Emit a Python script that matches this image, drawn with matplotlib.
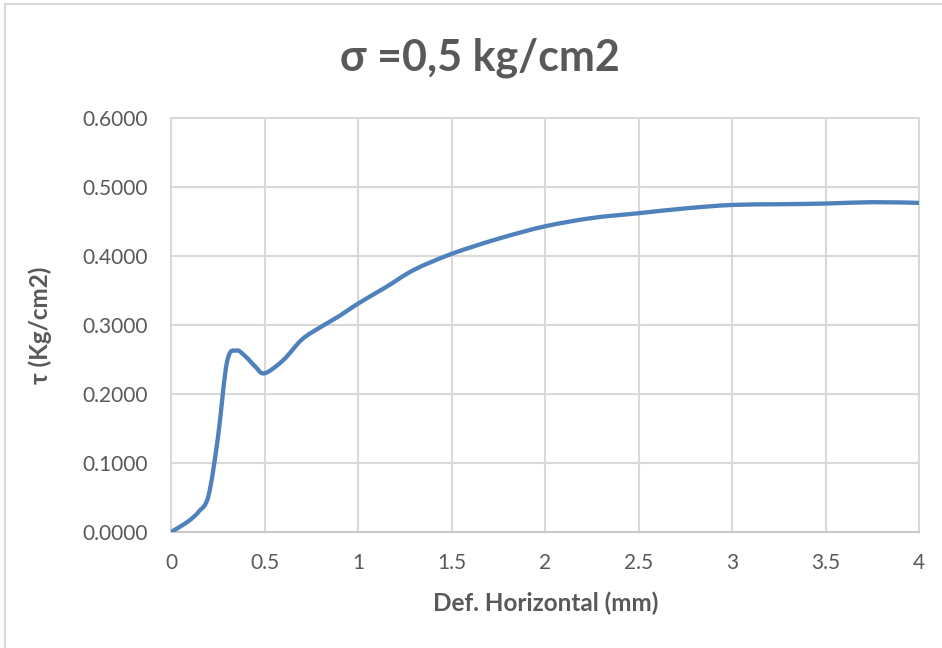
import numpy as np
import matplotlib
matplotlib.use('Agg')
import matplotlib.pyplot as plt
from matplotlib.path import Path
from matplotlib.patches import PathPatch
from matplotlib.lines import Line2D

# ── Data ─────────────────────────────────────────────────────────────────────
def_h = [0, 0.05, 0.10, 0.15, 0.20, 0.25, 0.30, 0.35, 0.40, 0.45, 0.50,
         0.60, 0.70, 0.80, 0.90, 1.00, 1.15, 1.30, 1.50, 1.75, 2.00,
         2.25, 2.50, 2.75, 3.00, 3.25, 3.50, 3.75, 4.00]
tau = [0.000, 0.008, 0.017, 0.030, 0.052, 0.135, 0.247, 0.263, 0.254, 0.240, 0.230,
       0.249, 0.279, 0.297, 0.313, 0.331, 0.355, 0.380, 0.403, 0.425, 0.443,
       0.455, 0.462, 0.469, 0.474, 0.475, 0.476, 0.478, 0.477]
x_ticks = [0, 0.5, 1, 1.5, 2, 2.5, 3, 3.5, 4]
x_tick_labels = ['0', '0.5', '1', '1.5', '2', '2.5', '3', '3.5', '4']
y_ticks = [0.0, 0.1, 0.2, 0.3, 0.4, 0.5, 0.6]

# ── Style ─────────────────────────────────────────────────────────────────────
LINE_C = '#4f81bd'
GRID_C = '#d9d9d9'
TEXT_C = '#595959'
plt.rcParams['font.family'] = ['Lato', 'DejaVu Sans']


def smooth_path(xs, ys):
    # Excel-style smoothed line: cubic Bezier segments through every point
    p = np.column_stack([xs, ys]).astype(float)
    ext = np.vstack([p[0], p, p[-1]])
    verts = [p[0]]
    codes = [Path.MOVETO]
    for i in range(len(p) - 1):
        c1 = ext[i + 1] + (ext[i + 2] - ext[i]) / 6
        c2 = ext[i + 2] - (ext[i + 3] - ext[i + 1]) / 6
        verts += [c1, c2, p[i + 1]]
        codes += [Path.CURVE4] * 3
    return Path(verts, codes)


fig = plt.figure(figsize=(9.42, 6.48), dpi=100, facecolor='white')
ax = fig.add_axes([171 / 942, 1 - 532 / 648, 748 / 942, 414 / 648])

ax.add_patch(PathPatch(smooth_path(def_h, tau), facecolor='none',
                       edgecolor=LINE_C, linewidth=3.1, capstyle='round',
                       joinstyle='round', zorder=3))

ax.set_xlim(0, 4)
ax.set_ylim(0, 0.6)
ax.set_xticks(x_ticks)
ax.set_xticklabels(x_tick_labels)
ax.set_yticks(y_ticks)
ax.set_yticklabels([f'{v:.4f}' for v in y_ticks])
ax.tick_params(length=0, labelsize=15, colors=TEXT_C)
ax.tick_params(axis='x', pad=15)
ax.tick_params(axis='y', pad=17)
ax.grid(True, color=GRID_C, linewidth=1.5, zorder=0)
ax.set_axisbelow(True)
for s in ax.spines.values():
    s.set_color(GRID_C)
    s.set_linewidth(1.5)
ax.spines['bottom'].set_color('#c8c8c8')

ax.set_xlabel('Def. Horizontal (mm)', fontsize=17.5, fontweight='bold',
              color=TEXT_C)
ax.xaxis.set_label_coords(546 / 942, 603, transform=fig.dpi_scale_trans)
ax.xaxis.label.set_va('center')
ax.set_ylabel('τ (Kg/cm2)', fontsize=17.5, fontweight='bold', color=TEXT_C)

fig.text(480 / 942, 1 - 58 / 648, 'σ =0,5 kg/cm2', ha='center', va='center',
         fontsize=31, fontweight='bold', color=TEXT_C)

# chart frame (only top and left edges show in the reference)
fig.add_artist(Line2D([5 / 942, 5 / 942], [0, 1 - 4 / 648],
                      color='#d9d9d9', linewidth=1.5, transform=fig.transFigure))
fig.add_artist(Line2D([5 / 942, 1], [1 - 4 / 648, 1 - 4 / 648],
                      color='#d9d9d9', linewidth=1.5, transform=fig.transFigure))

# axis label positions in figure pixels (top-left origin in the reference)
ax.xaxis.set_label_coords(546 / 942, 1 - 603 / 648, transform=fig.transFigure)
ax.yaxis.set_label_coords(40 / 942, 1 - 325 / 648, transform=fig.transFigure)
ax.yaxis.label.set_va('center')

fig.savefig('out.png', dpi=100, facecolor='white')
